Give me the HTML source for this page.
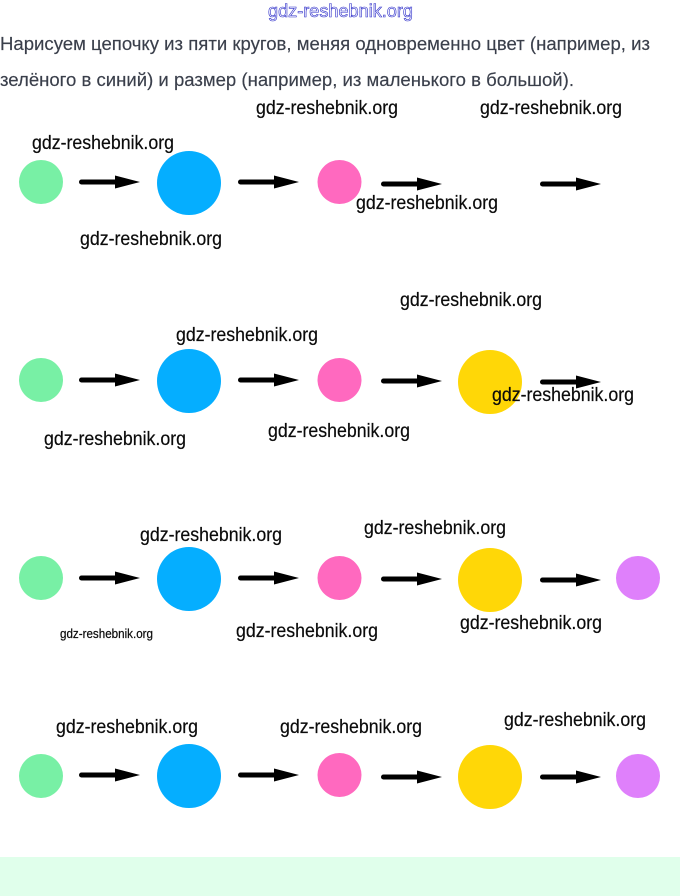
<!DOCTYPE html>
<html>
<head>
<meta charset="utf-8">
<style>
html,body{margin:0;padding:0;background:#fff;width:680px;height:896px;overflow:hidden}
svg{display:block}
.w{font-family:"Liberation Sans",sans-serif;font-size:19px;fill:#0b0b0b;stroke:#0b0b0b;stroke-width:0.2px}
.b{font-family:"Liberation Sans","Noto Sans CJK SC",sans-serif;font-size:18px;fill:#3a3f4b;stroke:#3a3f4b;stroke-width:0.15px}
</style>
</head>
<body>
<svg width="680" height="896" viewBox="0 0 680 896" xmlns="http://www.w3.org/2000/svg">
<defs>
<g id="arrow">
<rect x="0" y="-2.500" width="40" height="5" rx="2.500" fill="#000"/>
<polygon points="36,-6.500 61,0 36,6.500" fill="#000"/>
</g>
</defs>
<rect x="0" y="857" width="680" height="39" fill="#e0ffeb"/>

<text x="268" y="17" font-family="Liberation Sans,sans-serif" font-size="18" fill="#f4f5ff" stroke="#3030c8" stroke-width="0.6" textLength="145" lengthAdjust="spacingAndGlyphs">gdz-reshebnik.org</text>
<text class="b" x="0" y="50" textLength="650" lengthAdjust="spacingAndGlyphs">Нарисуем цепочку из пяти кругов, меняя одновременно цвет (например, из</text>
<text class="b" x="0" y="86" textLength="574" lengthAdjust="spacingAndGlyphs">зелёного в синий) и размер (например, из маленького в большой).</text>

<!-- Row 1 -->
<circle cx="41" cy="182" r="22" fill="#78f0a5"/>
<circle cx="189" cy="183" r="32" fill="#05aeff"/>
<circle cx="339.500" cy="182" r="22" fill="#ff69bf"/>
<use href="#arrow" x="79" y="182"/>
<use href="#arrow" x="238" y="182"/>
<use href="#arrow" x="381" y="184"/>
<use href="#arrow" x="540" y="184"/>

<!-- Row 2 -->
<circle cx="41" cy="380" r="22" fill="#78f0a5"/>
<circle cx="189" cy="381" r="32" fill="#05aeff"/>
<circle cx="339.500" cy="380" r="22" fill="#ff69bf"/>
<circle cx="490" cy="382" r="32" fill="#ffd707"/>
<use href="#arrow" x="79" y="380"/>
<use href="#arrow" x="238" y="380"/>
<use href="#arrow" x="381" y="381"/>
<use href="#arrow" x="540" y="382"/>

<!-- Row 3 -->
<circle cx="41" cy="578" r="22" fill="#78f0a5"/>
<circle cx="189" cy="579" r="32" fill="#05aeff"/>
<circle cx="339.500" cy="578" r="22" fill="#ff69bf"/>
<circle cx="490" cy="580" r="32" fill="#ffd707"/>
<circle cx="638" cy="578" r="22" fill="#df80fb"/>
<use href="#arrow" x="79" y="578"/>
<use href="#arrow" x="238" y="578"/>
<use href="#arrow" x="381" y="579"/>
<use href="#arrow" x="540" y="580"/>

<!-- Row 4 -->
<circle cx="41" cy="776" r="22" fill="#78f0a5"/>
<circle cx="189" cy="776" r="32" fill="#05aeff"/>
<circle cx="339.500" cy="775" r="22" fill="#ff69bf"/>
<circle cx="490" cy="777" r="32" fill="#ffd707"/>
<circle cx="638" cy="776" r="22" fill="#df80fb"/>
<use href="#arrow" x="79" y="775"/>
<use href="#arrow" x="238" y="775"/>
<use href="#arrow" x="381" y="777"/>
<use href="#arrow" x="540" y="777"/>

<!-- Watermarks -->
<g class="w">
<text x="256" y="114" textLength="142" lengthAdjust="spacingAndGlyphs">gdz-reshebnik.org</text>
<text x="480" y="114" textLength="142" lengthAdjust="spacingAndGlyphs">gdz-reshebnik.org</text>
<text x="32" y="149" textLength="142" lengthAdjust="spacingAndGlyphs">gdz-reshebnik.org</text>
<text x="356" y="209" textLength="142" lengthAdjust="spacingAndGlyphs">gdz-reshebnik.org</text>
<text x="80" y="245" textLength="142" lengthAdjust="spacingAndGlyphs">gdz-reshebnik.org</text>
<text x="400" y="306" textLength="142" lengthAdjust="spacingAndGlyphs">gdz-reshebnik.org</text>
<text x="176" y="341" textLength="142" lengthAdjust="spacingAndGlyphs">gdz-reshebnik.org</text>
<text x="492" y="401" textLength="142" lengthAdjust="spacingAndGlyphs">gdz-reshebnik.org</text>
<text x="268" y="437" textLength="142" lengthAdjust="spacingAndGlyphs">gdz-reshebnik.org</text>
<text x="44" y="445" textLength="142" lengthAdjust="spacingAndGlyphs">gdz-reshebnik.org</text>
<text x="364" y="534" textLength="142" lengthAdjust="spacingAndGlyphs">gdz-reshebnik.org</text>
<text x="140" y="541" textLength="142" lengthAdjust="spacingAndGlyphs">gdz-reshebnik.org</text>
<text x="460" y="629" textLength="142" lengthAdjust="spacingAndGlyphs">gdz-reshebnik.org</text>
<text x="236" y="637" textLength="142" lengthAdjust="spacingAndGlyphs">gdz-reshebnik.org</text>
<text x="60" y="638" style="font-size:12.500px" textLength="93" lengthAdjust="spacingAndGlyphs">gdz-reshebnik.org</text>
<text x="504" y="726" textLength="142" lengthAdjust="spacingAndGlyphs">gdz-reshebnik.org</text>
<text x="56" y="733" textLength="142" lengthAdjust="spacingAndGlyphs">gdz-reshebnik.org</text>
<text x="280" y="733" textLength="142" lengthAdjust="spacingAndGlyphs">gdz-reshebnik.org</text>
</g>
</svg>
</body>
</html>
